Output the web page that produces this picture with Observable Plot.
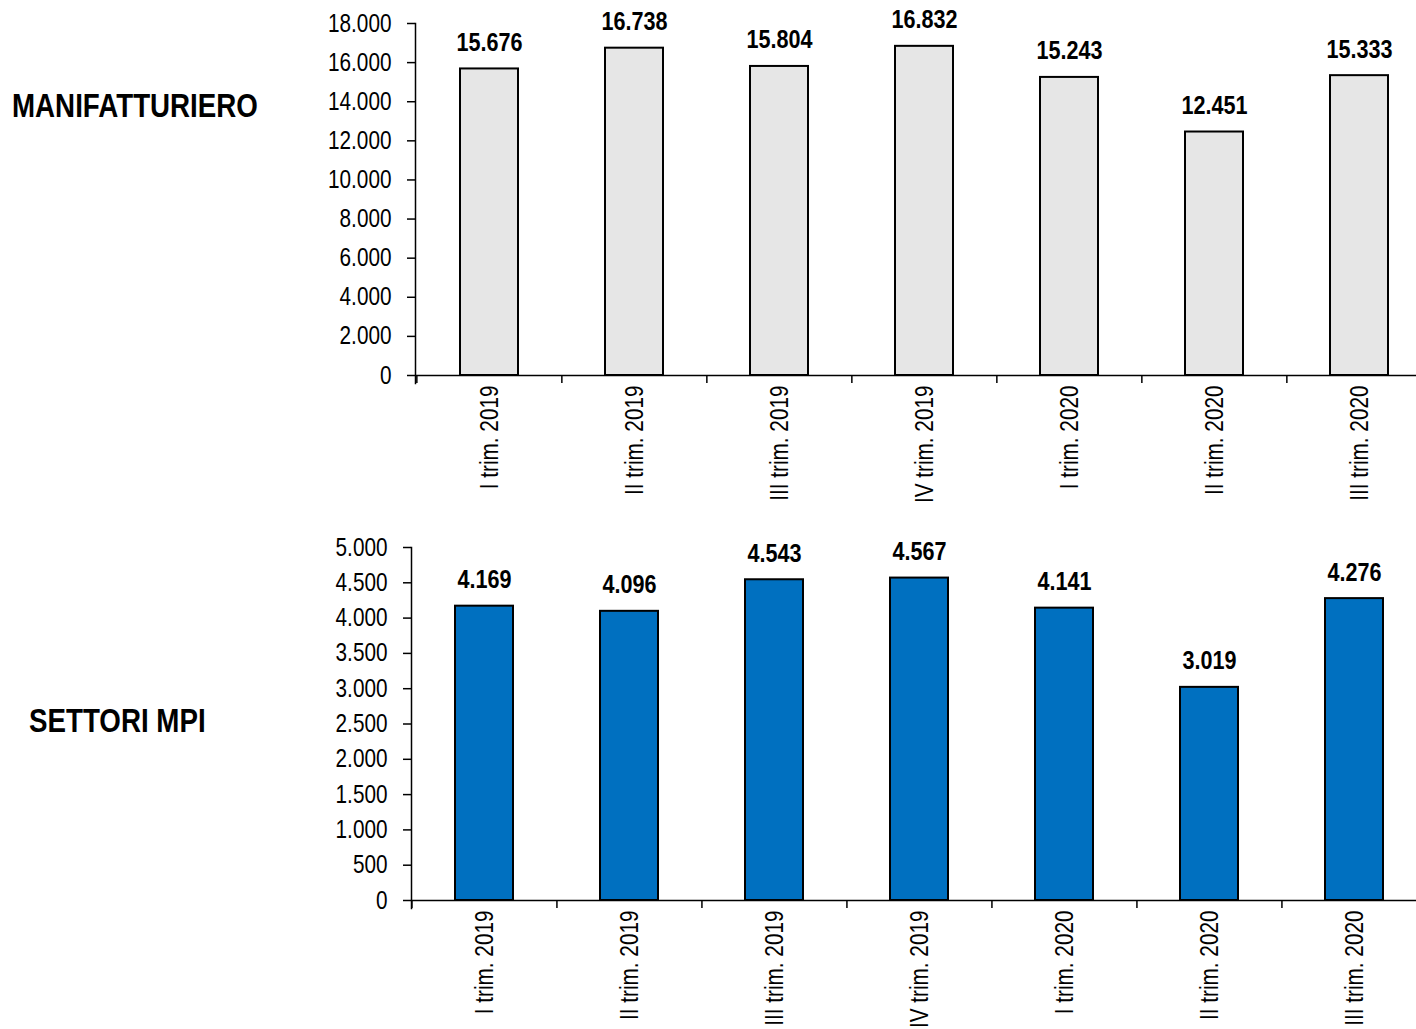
<!DOCTYPE html>
<html>
<head>
<meta charset="utf-8">
<script src="https://cdn.jsdelivr.net/npm/d3@7"></script>
<script src="https://cdn.jsdelivr.net/npm/@observablehq/plot@0.6"></script>
<style>
  html, body { margin: 0; padding: 0; background: #fff; }
  body { width: 1416px; height: 1029px; position: relative; overflow: hidden; }
  .panel { position: absolute; left: 0; z-index: 1; }
  .lbl { position: absolute; z-index: 5; font-family: "Liberation Sans", Arial, sans-serif; font-weight: bold; font-size: 33px; color: #000; white-space: nowrap; line-height: 1; transform: scaleX(0.84); transform-origin: 0 0; }
</style>
</head>
<body>
<div class="panel" id="p1" style="top:0px;"></div>
<div class="panel" id="p2" style="top:520px;"></div>
<div class="lbl" id="l1" style="left:12px; top:89px;">MANIFATTURIERO</div>
<div class="lbl" id="l2" style="left:29px; top:704px;">SETTORI MPI</div>
<script>
const categories = ["I trim. 2019", "II trim. 2019", "III trim. 2019", "IV trim. 2019", "I trim. 2020", "II trim. 2020", "III trim. 2020"];
const manifatturiero = [15676, 16738, 15804, 16832, 15243, 12451, 15333];
const settoriMPI = [4169, 4096, 4543, 4567, 4141, 3019, 4276];
const ticksTop = [0, 2000, 4000, 6000, 8000, 10000, 12000, 14000, 16000, 18000];
const ticksBottom = [0, 500, 1000, 1500, 2000, 2500, 3000, 3500, 4000, 4500, 5000];

const itFmt = d3.formatLocale({decimal: ",", thousands: ".", grouping: [3], currency: ["", " €"]}).format(",d");
const FONT = '"Liberation Sans", Arial, sans-serif';
const NARROW = 0.83;

// emulate a narrow face: compress each text along its own reading direction
function condense(svg, k) {
  svg.querySelectorAll("text").forEach(t => {
    const xa = t.getAttribute("x");
    let x = 0;
    if (xa != null && !/em$/.test(xa)) { x = parseFloat(xa) || 0; t.removeAttribute("x"); }
    const tr = t.getAttribute("transform") || "";
    t.setAttribute("transform", `${tr} translate(${x},0) scale(${k},1)`);
  });
  return svg;
}

function panel({values, ticks, yMax, fill, height, marginLeft, yTop, yZero, xEnd}) {
  const data = categories.map((c, i) => ({cat: c, value: values[i]}));
  const marginBottom = height - (yZero + 8);
  const step = (xEnd - marginLeft) / categories.length;
  const svg = Plot.plot({
    width: 1416,
    height,
    marginLeft,
    marginRight: 0,
    marginTop: yTop,
    marginBottom,
    style: {fontFamily: FONT, fontSize: "25px", color: "#000", background: "transparent", overflow: "visible"},
    x: {type: "band", domain: categories, range: [marginLeft, xEnd], paddingInner: 0.6, paddingOuter: 0.3, align: 0.5, label: null},
    y: {domain: [0, yMax], range: [yZero, yTop], label: null},
    marks: [
      Plot.barY(data, {x: "cat", y: "value", fill, stroke: "#000", strokeWidth: 2}),
      Plot.ruleY([0], {stroke: "#000", strokeWidth: 1.5}),
      Plot.frame({anchor: "left", stroke: "#000", strokeWidth: 1.5}),
      Plot.axisY({ticks, tickSize: 8, tickPadding: 16, tickFormat: itFmt, fontSize: 25, stroke: "#000", strokeWidth: 1.5, label: null}),
      Plot.axisX({tickSize: 0, tickPadding: 2, tickRotate: -90, fontSize: 25, label: null}),
      Plot.ruleX(categories, {x: d => d, y1: 0, y2: 0, insetBottom: -8, dx: -step / 2, stroke: "#000", strokeWidth: 1.5}),
      Plot.text(data, {x: "cat", y: "value", text: d => itFmt(d.value), lineAnchor: "bottom", dy: -18, fontWeight: "bold", fontSize: 26, fill: "#000"})
    ]
  });
  return condense(svg, NARROW);
}

document.getElementById("p1").append(panel({
  values: manifatturiero, ticks: ticksTop, yMax: 18000, fill: "#e6e6e6",
  height: 520, marginLeft: 415, yTop: 23, yZero: 375, xEnd: 1432
}));
document.getElementById("p2").append(panel({
  values: settoriMPI, ticks: ticksBottom, yMax: 5000, fill: "#0070c0",
  height: 509, marginLeft: 411, yTop: 27, yZero: 380, xEnd: 1427
}));
</script>
</body>
</html>
